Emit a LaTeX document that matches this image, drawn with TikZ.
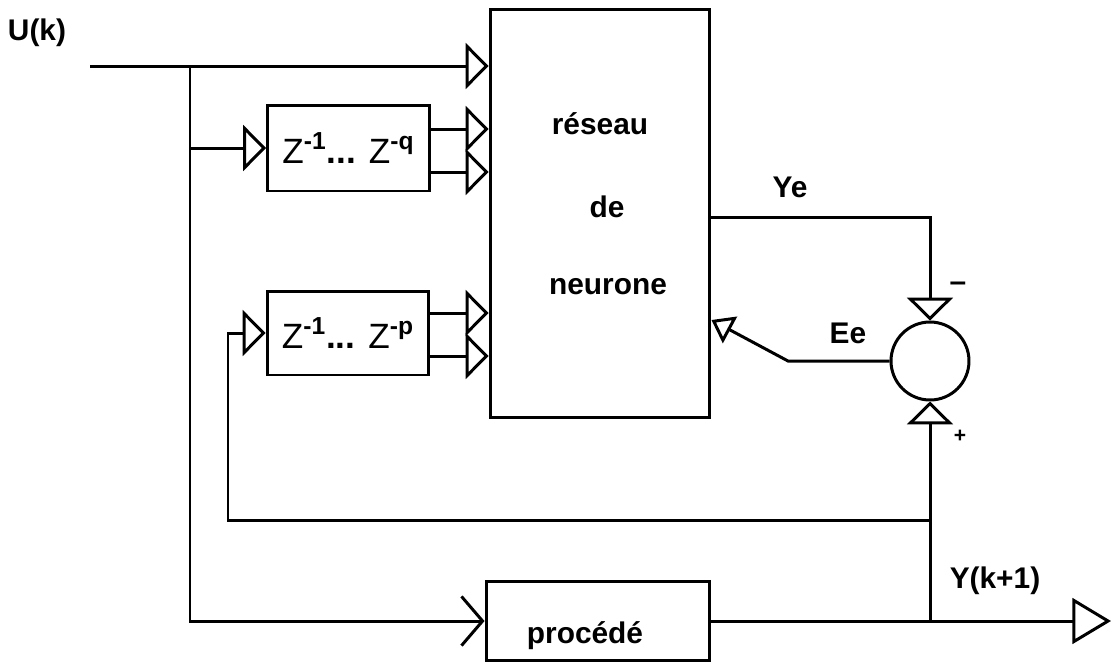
\documentclass[tikz,border=0pt]{standalone}
\usepackage{fontspec}
\setmainfont{Liberation Sans}
\usetikzlibrary{arrows.meta}

\begin{document}
\begin{tikzpicture}[x=0.02cm,y=-0.02cm,line width=1.7pt,
    blk/.style={draw,inner sep=0pt},
    lbl/.style={font=\fontsize{17}{20}\selectfont\bfseries},
    zlbl/.style={font=\fontsize{20}{24}\selectfont},
    inarrow/.style={-{Triangle[open,length=13pt,width=26pt]}},
    smallarrow/.style={-{Triangle[open,length=12pt,width=17pt]}},
    outarrow/.style={-{Triangle[open,length=22pt,width=26pt]}},
    barb/.style={-{Straight Barb[length=12pt,width=28pt]}}]
  \useasboundingbox (0,0) rectangle (1113,664);
  \node[blk,minimum width=4.4cm,minimum height=8.18cm] (reseau) at (600,213.5) {};
  \node[blk,minimum width=3.24cm,minimum height=1.72cm,zlbl] (zq) at (348.5,148)
    {Z\textsuperscript{\bfseries -1}\textbf{...} Z\textsuperscript{\bfseries -q}};
  \node[blk,minimum width=3.24cm,minimum height=1.68cm,zlbl] (zp) at (348,333)
    {Z\textsuperscript{\bfseries -1}\textbf{...} Z\textsuperscript{\bfseries -p}};
  \node[blk,minimum width=4.48cm,minimum height=1.58cm] (proc) at (598,621) {};
  \node[draw,circle,minimum size=1.56cm,inner sep=0pt] (sum) at (930,361) {};

  \node[lbl] (ulbl) at (37,33) {U(k)};
  \node[lbl] (res1) at (600,124) {réseau};
  \node[lbl] (res2) at (607,207) {de};
  \node[lbl] (res3) at (608,287) {neurone};
  \node[lbl] (procl) at (585,636) {procédé};
  \node[lbl] (yelbl) at (790,187) {Ye};
  \node[lbl] (eelbl) at (848,333) {Ee};
  \node[lbl] (minus) at (958,287) {--};
  \node[font=\fontsize{12}{14}\selectfont\bfseries] (plus) at (960,436) {+};
  \node[lbl] (yklbl) at (995,581) {Y(k+1)};

  \coordinate (uin) at (90,66);
  \coordinate (tap) at (190,66);
  \coordinate (ynode) at (930,520);
  \coordinate (fbl) at (228,520);
  \coordinate (bend) at (788,361);
  \coordinate (yout) at (1111,621);

  \draw[inarrow] (uin) -- (uin -| reseau.west);
  \draw[barb] (tap) |- (proc.west);
  \draw[inarrow] (tap |- zq.west) -- (zq.west);
  \foreach \y in {129,172} { \draw[inarrow] (zq.east |- 0,\y) -- (reseau.west |- 0,\y); }
  \foreach \y in {313,356} { \draw[inarrow] (zp.east |- 0,\y) -- (reseau.west |- 0,\y); }
  \draw[inarrow] (ynode) -- (fbl) |- (zp.west);
  \draw[inarrow] (reseau.east |- 0,217) -| (sum.north);
  \draw[inarrow] (ynode) -- (sum.south);
  \draw (ynode) -- (ynode |- proc.east);
  \draw[outarrow] (proc.east) -- (yout);
  \draw[smallarrow] (sum.west) -- (bend) -- (reseau.east |- 0,320);
\end{tikzpicture}
\end{document}
